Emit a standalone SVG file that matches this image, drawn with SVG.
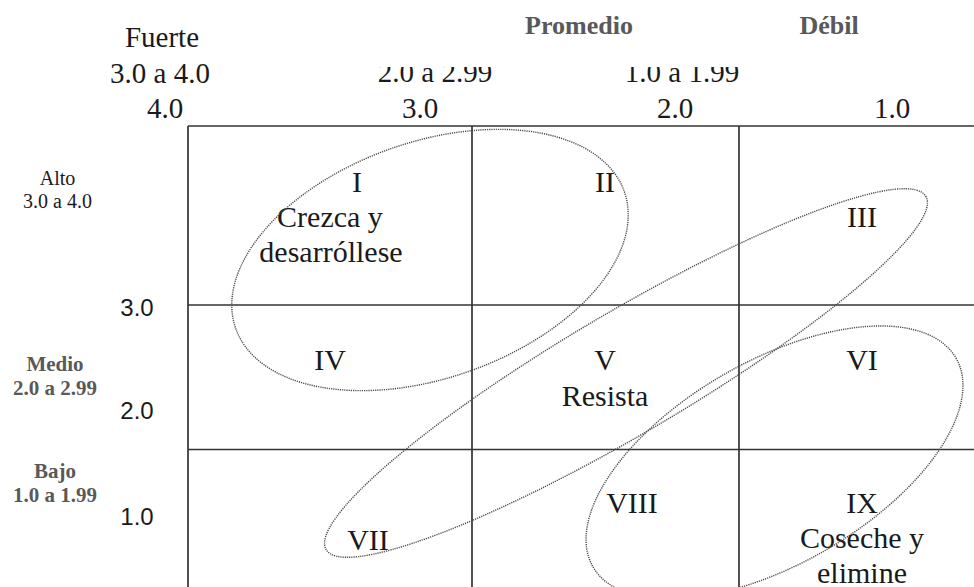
<svg xmlns="http://www.w3.org/2000/svg" width="974" height="587" viewBox="0 0 974 587">
<defs>
<style>
.s{font-family:"Liberation Serif","Times New Roman",serif;fill:#1a1a1a;text-anchor:middle}
.h{font-size:29px}
.c{font-size:30px}
.b{font-family:"Liberation Serif","Times New Roman",serif;font-weight:bold;fill:#595959;text-anchor:middle}
.n{font-family:"Liberation Sans",Arial,sans-serif;font-size:24px;fill:#1a1a1a;text-anchor:middle}
.g{stroke:#333;stroke-width:1.7;fill:none}
.e{stroke:#4a4a4a;stroke-width:1.4;fill:none;stroke-dasharray:1.2 1}
</style>
<clipPath id="cut"><rect x="0" y="67" width="974" height="60"/></clipPath>
</defs>
<rect width="974" height="587" fill="#fff"/>
<g id="grid">
<line class="g" x1="188" y1="126" x2="974" y2="126"/>
<line class="g" x1="188" y1="305" x2="974" y2="305"/>
<line class="g" x1="188" y1="449.5" x2="974" y2="449.5"/>
<line class="g" x1="188" y1="126" x2="188" y2="587"/>
<line class="g" x1="472" y1="126" x2="472" y2="587"/>
<line class="g" x1="739" y1="126" x2="739" y2="587"/>
</g>
<g id="headers">
<text class="s h" x="162" y="47">Fuerte</text>
<text class="s h" x="160" y="83">3.0 a 4.0</text>
<text class="s h" x="435" y="82" clip-path="url(#cut)">2.0 a 2.99</text>
<text class="s h" x="682" y="82" clip-path="url(#cut)">1.0 a 1.99</text>
<text class="s h" x="165" y="118">4.0</text>
<text class="s h" x="420" y="118">3.0</text>
<text class="s h" x="675" y="118">2.0</text>
<text class="s h" x="892" y="118">1.0</text>
<text class="b" x="579" y="34" font-size="26">Promedio</text>
<text class="b" x="829" y="34" font-size="26">Débil</text>
<text class="s" x="57.5" y="185" font-size="20">Alto</text>
<text class="s" x="57.5" y="208" font-size="20">3.0 a 4.0</text>
<text class="b" x="55" y="371" font-size="21">Medio</text>
<text class="b" x="55" y="395" font-size="21">2.0 a 2.99</text>
<text class="b" x="55" y="478" font-size="21">Bajo</text>
<text class="b" x="55" y="502" font-size="21">1.0 a 1.99</text>
<text class="n" x="137" y="316">3.0</text>
<text class="n" x="137" y="419">2.0</text>
<text class="n" x="137" y="525">1.0</text>
</g>
<g id="cell-I"><text class="s c" x="357" y="192">I</text><text class="s c" x="330" y="227">Crezca y</text><text class="s c" x="331" y="262">desarróllese</text></g>
<g id="cell-II"><text class="s c" x="605" y="192">II</text></g>
<g id="cell-III"><text class="s c" x="862" y="227">III</text></g>
<g id="cell-IV"><text class="s c" x="330" y="370">IV</text></g>
<g id="cell-V"><text class="s c" x="605" y="370">V</text><text class="s c" x="605" y="406">Resista</text></g>
<g id="cell-VI"><text class="s c" x="862" y="370">VI</text></g>
<g id="cell-VII"><text class="s c" x="368" y="550">VII</text></g>
<g id="cell-VIII"><text class="s c" x="632" y="513">VIII</text></g>
<g id="cell-IX"><text class="s c" x="862" y="513">IX</text><text class="s c" x="862" y="548">Coseche y</text><text class="s c" x="862" y="583">elimine</text></g>
<g id="connectors">
<ellipse class="e" cx="430" cy="260" rx="206" ry="118" transform="rotate(-19.4 430 260)"/>
<ellipse class="e" cx="626" cy="373" rx="348" ry="61" transform="rotate(-30.5 626 373)"/>
<ellipse class="e" cx="774.5" cy="462.5" rx="209.4" ry="101.5" transform="rotate(-29.9 774.5 462.5)"/>
</g>
</svg>
